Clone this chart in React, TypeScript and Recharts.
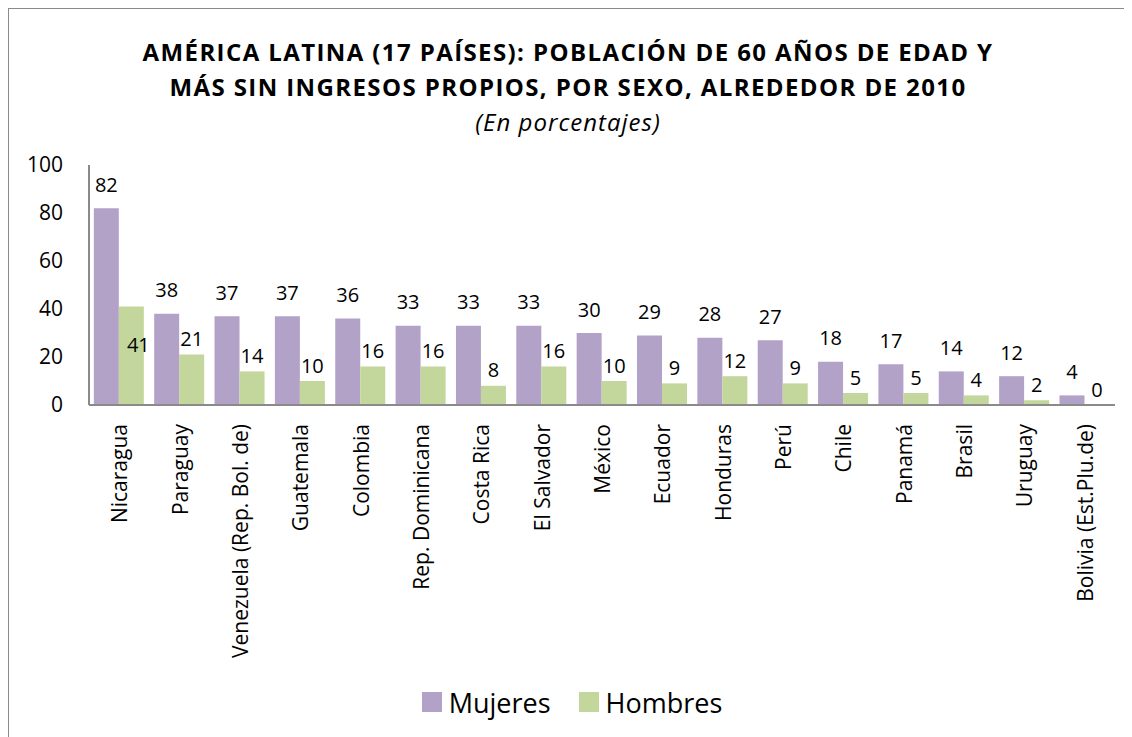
import { BarChart, Bar, XAxis, YAxis, Legend, LabelList } from "recharts";

const paises = [
  "Nicaragua",
  "Paraguay",
  "Venezuela (Rep. Bol. de)",
  "Guatemala",
  "Colombia",
  "Rep. Dominicana",
  "Costa Rica",
  "El Salvador",
  "México",
  "Ecuador",
  "Honduras",
  "Perú",
  "Chile",
  "Panamá",
  "Brasil",
  "Uruguay",
  "Bolivia (Est.Plu.de)",
];
const mujeres = [82, 38, 37, 37, 36, 33, 33, 33, 30, 29, 28, 27, 18, 17, 14, 12, 4];
const hombres = [41, 21, 14, 10, 16, 16, 8, 16, 10, 9, 12, 9, 5, 5, 4, 2, 0];
const yTicks = [0, 20, 40, 60, 80, 100];

const series = [
  { key: "Mujeres", color: "#B3A2C7" },
  { key: "Hombres", color: "#C3D69B" },
];

const data = paises.map((p, i) => ({ pais: p, Mujeres: mujeres[i], Hombres: hombres[i] }));

const FONT = "'Open Sans', sans-serif";

function RotTick({ x, y, payload }: any) {
  const ty = y + 11;
  return (
    <text
      x={x}
      y={ty}
      transform={`rotate(-90, ${x}, ${ty})`}
      textAnchor="end"
      dominantBaseline="central"
      fontSize={21}
      fontFamily={FONT}
      fill="#000"
    >
      {payload.value}
    </text>
  );
}

function Txt({ x, y, v }: { x: number; y: number; v: number }) {
  return (
    <text x={x} y={y} textAnchor="middle" dominantBaseline="central" fontSize={20} fontFamily={FONT} fill="#000">
      {v}
    </text>
  );
}

// Excel had the Nicaragua "41" label dragged inside its bar
function HombresLabel(props: any) {
  const { x, y, width, value, index } = props;
  const inside = index === 0;
  return <Txt x={x + width / 2 + (inside ? 7 : 0)} y={inside ? y + 38 : y - 16} v={value} />;
}

// zero-height bars get no label from recharts, so the 0 of Hombres is drawn here
function MujeresLabel(props: any) {
  const { x, y, width, height, value, index } = props;
  return (
    <g>
      <Txt x={x + width / 2} y={y - 24} v={value} />
      {hombres[index] === 0 && <Txt x={x + width * 1.5} y={y + height - 16} v={0} />}
    </g>
  );
}

function LegendBox() {
  return (
    <div style={{ height: 34, display: "flex", justifyContent: "center", alignItems: "center", gap: 28 }}>
      {series.map((s) => (
        <div key={s.key} style={{ display: "flex", alignItems: "center", gap: 7 }}>
          <span style={{ width: 20, height: 20, background: s.color, display: "inline-block" }} />
          <span style={{ fontSize: 27, color: "#000", fontFamily: FONT }}>{s.key}</span>
        </div>
      ))}
    </div>
  );
}

export default function App() {
  return (
    <div
      style={{
        position: "relative",
        width: 1140,
        height: 740,
        border: "1px solid #8a8a8a",
        borderRight: "none",
        fontFamily: FONT,
        background: "#fff",
      }}
    >
      <div
        style={{
          position: "absolute",
          top: 25,
          left: 0,
          width: 1118,
          textAlign: "center",
          fontWeight: 700,
          fontSize: 24,
          letterSpacing: 1.4,
          lineHeight: "35px",
          color: "#000",
        }}
      >
        AMÉRICA LATINA (17 PAÍSES): POBLACIÓN DE 60 AÑOS DE EDAD Y
        <br />
        MÁS SIN INGRESOS PROPIOS, POR SEXO, ALREDEDOR DE 2010
        <div style={{ fontWeight: 400, fontStyle: "italic", fontSize: 24, letterSpacing: 1 }}>(En porcentajes)</div>
      </div>
      <BarChart
        width={1118}
        height={728}
        data={data}
        margin={{ top: 156, right: 12, bottom: 18, left: 20 }}
        barCategoryGap="8%"
        barGap={0}
      >
        <XAxis
          dataKey="pais"
          interval={0}
          height={280}
          tick={<RotTick />}
          tickLine={false}
          axisLine={{ stroke: "#8a8a8a", strokeWidth: 2 }}
        />
        <YAxis
          domain={[0, 100]}
          ticks={yTicks}
          width={60}
          tickLine={false}
          tickSize={20}
          tickMargin={6}
          axisLine={{ stroke: "#8a8a8a", strokeWidth: 2 }}
          tick={{ fontSize: 21, fill: "#000", fontFamily: FONT }}
        />
        <Legend verticalAlign="bottom" content={<LegendBox />} />
        {series.map((s) => (
          <Bar key={s.key} dataKey={s.key} fill={s.color} isAnimationActive={false}>
            <LabelList dataKey={s.key} content={s.key === "Mujeres" ? <MujeresLabel /> : <HombresLabel />} />
          </Bar>
        ))}
      </BarChart>
    </div>
  );
}
